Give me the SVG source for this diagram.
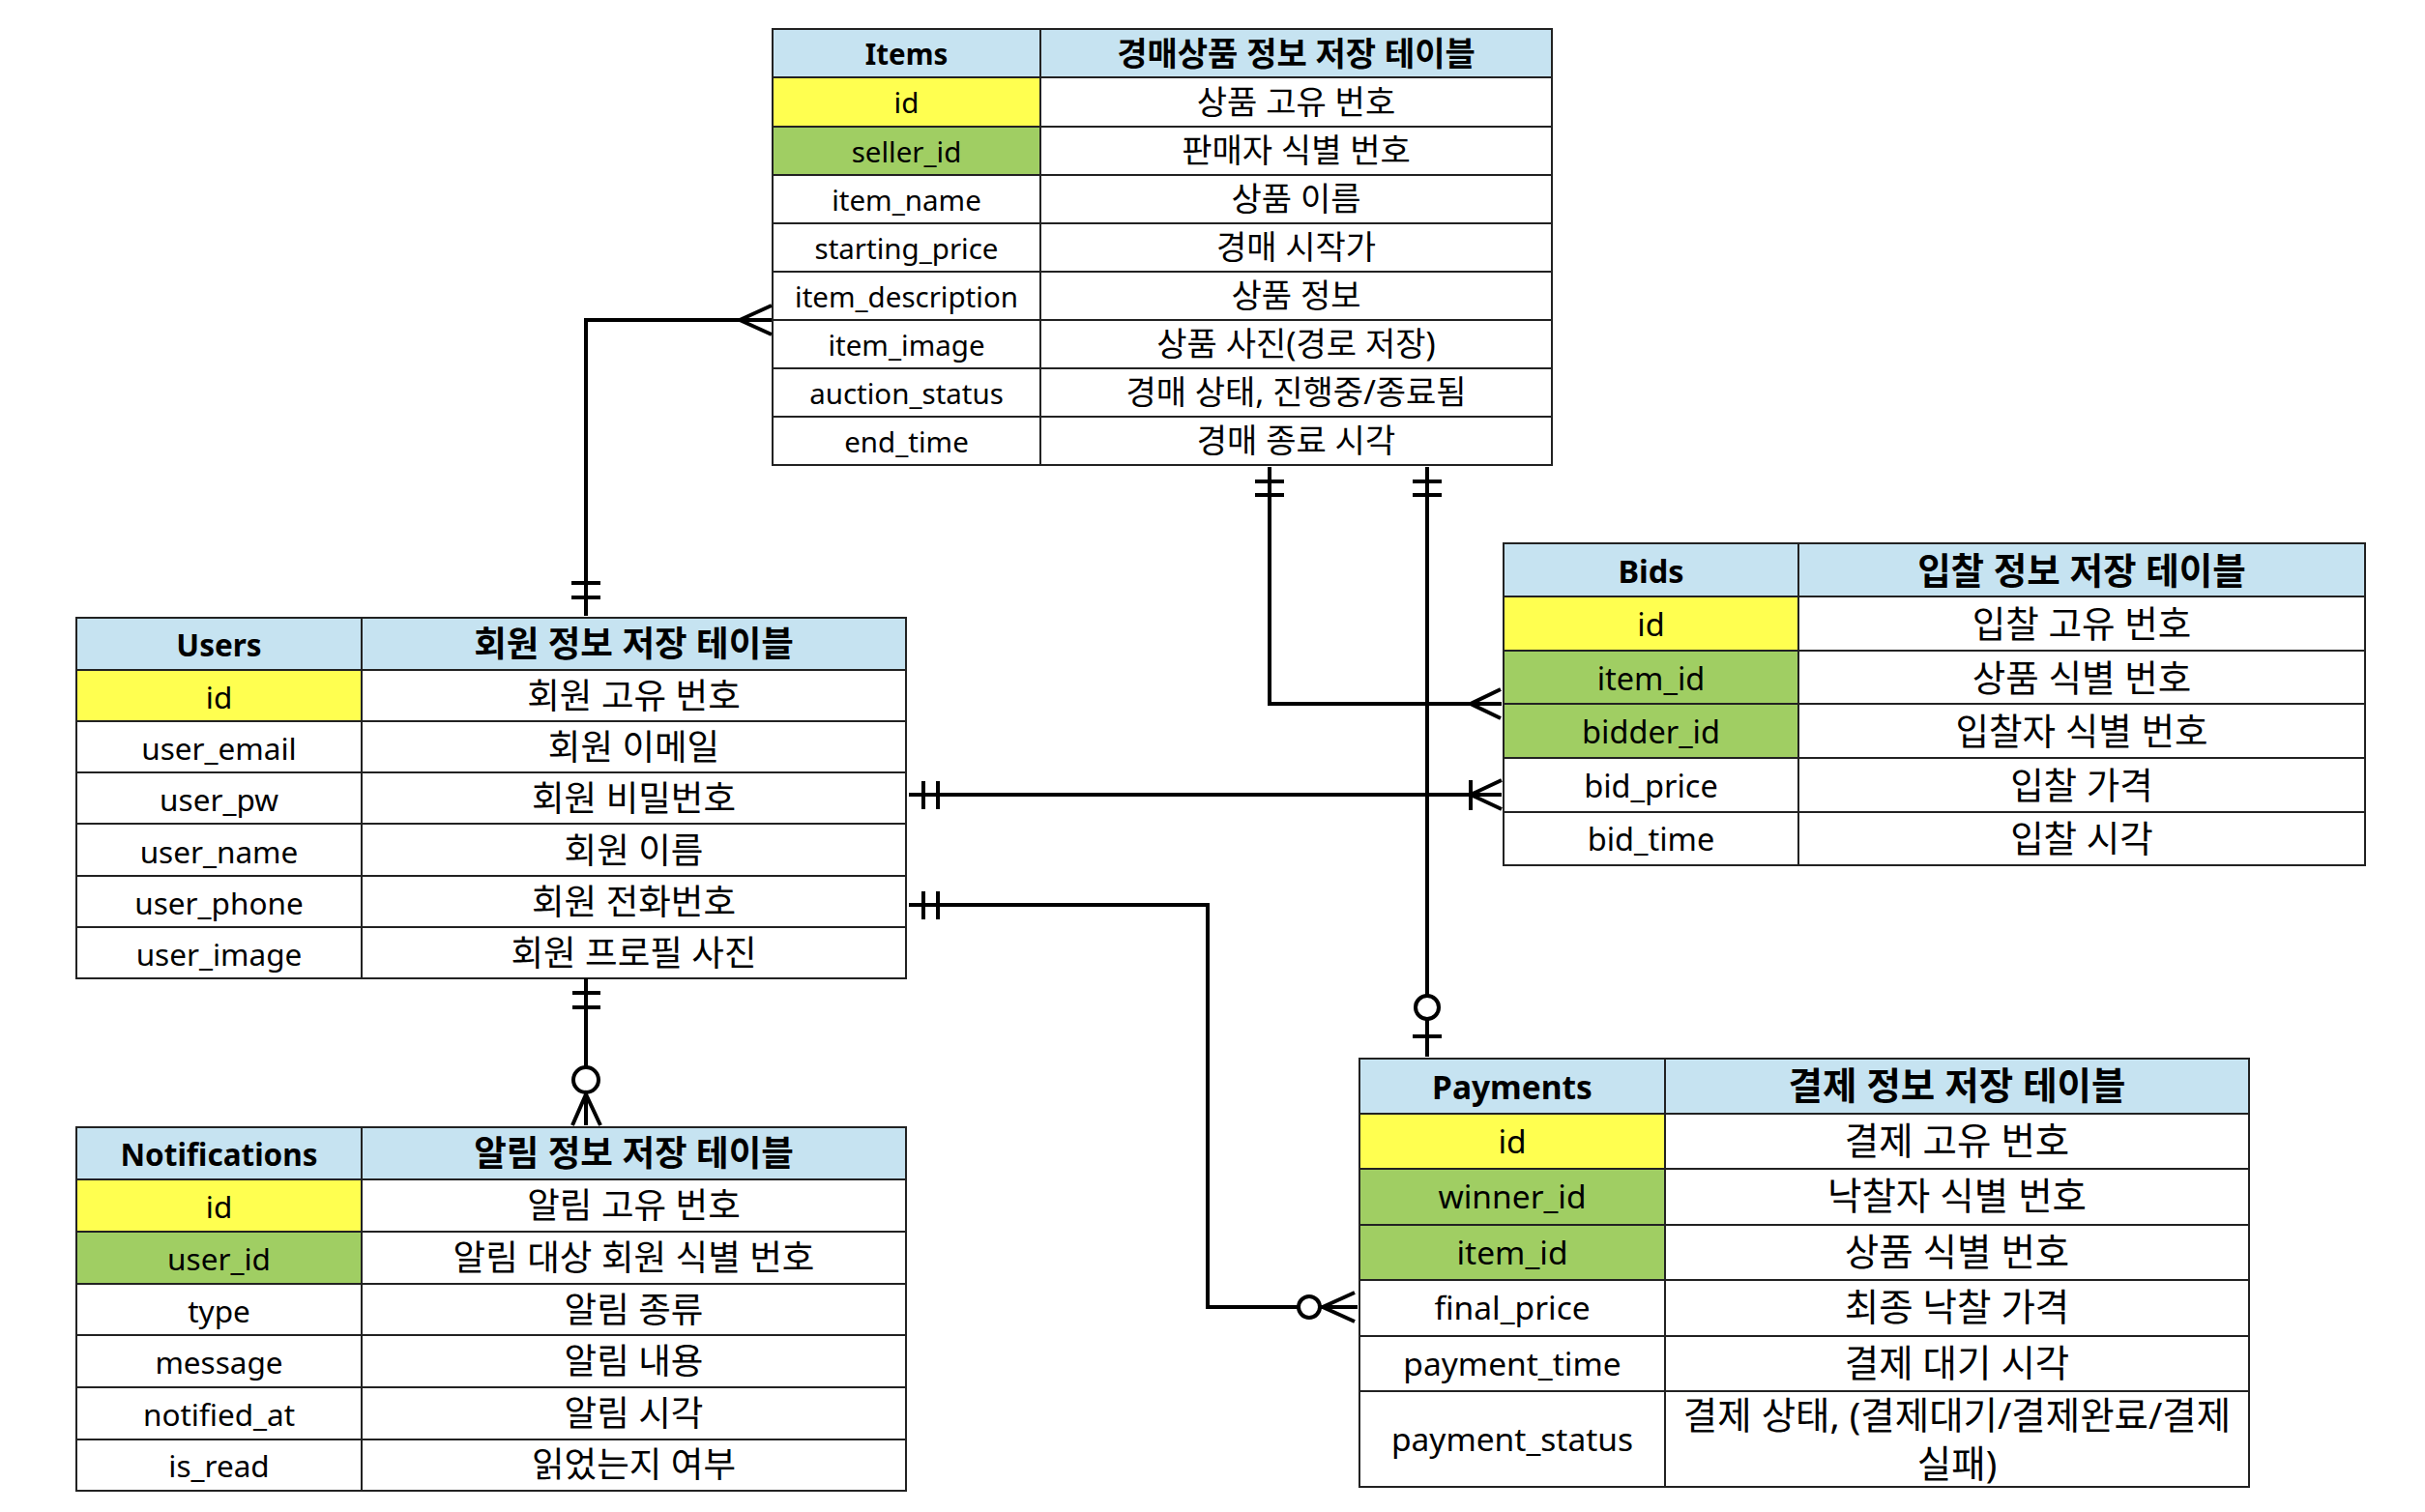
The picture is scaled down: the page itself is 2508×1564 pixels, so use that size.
<svg xmlns="http://www.w3.org/2000/svg" width="2508" height="1564" viewBox="0 0 2508 1564">
<style>
.c{stroke:#222;stroke-width:2}
.h{fill:#C6E3F1}
.pk{fill:#FFFF50}
.fk{fill:#A0CE63}
.w{fill:#FFFFFF}
text{font-family:"Noto Sans","Noto Sans CJK KR",sans-serif;fill:#000;text-anchor:middle;dominant-baseline:central}
.b{font-weight:bold}
.t1 text{font-size:29.5px}
.t1 text.k{font-size:34px}
.t2 text{font-size:31.5px}
.t2 text.k{font-size:36.5px}
.t3 text{font-size:32.5px}
.t3 text.k{font-size:37.5px}
.t4 text{font-size:33.5px}
.t4 text.k{font-size:38.5px}
#connectors path,#connectors line{stroke:#000;stroke-width:4;fill:none}
#connectors circle{stroke:#000;stroke-width:4;fill:#fff}
</style>
<rect width="2508" height="1564" fill="#fff"/>

<g id="items" class="t1">
<rect class="c h" x="799" y="30" width="277" height="50"/><rect class="c h" x="1076" y="30" width="529" height="50"/>
<rect class="c pk" x="799" y="80" width="277" height="51"/><rect class="c w" x="1076" y="80" width="529" height="51"/>
<rect class="c fk" x="799" y="131" width="277" height="50"/><rect class="c w" x="1076" y="131" width="529" height="50"/>
<rect class="c w" x="799" y="181" width="277" height="50"/><rect class="c w" x="1076" y="181" width="529" height="50"/>
<rect class="c w" x="799" y="231" width="277" height="50"/><rect class="c w" x="1076" y="231" width="529" height="50"/>
<rect class="c w" x="799" y="281" width="277" height="50"/><rect class="c w" x="1076" y="281" width="529" height="50"/>
<rect class="c w" x="799" y="331" width="277" height="50"/><rect class="c w" x="1076" y="331" width="529" height="50"/>
<rect class="c w" x="799" y="381" width="277" height="50"/><rect class="c w" x="1076" y="381" width="529" height="50"/>
<rect class="c w" x="799" y="431" width="277" height="50"/><rect class="c w" x="1076" y="431" width="529" height="50"/>
<text class="b" x="937.5" y="55">Items</text><text class="b k" x="1340.5" y="55">경매상품 정보 저장 테이블</text>
<text x="937.5" y="105">id</text><text class="k" x="1340.5" y="105">상품 고유 번호</text>
<text x="937.5" y="156">seller_id</text><text class="k" x="1340.5" y="155">판매자 식별 번호</text>
<text x="937.5" y="206">item_name</text><text class="k" x="1340.5" y="205">상품 이름</text>
<text x="937.5" y="256">starting_price</text><text class="k" x="1340.5" y="255">경매 시작가</text>
<text x="937.5" y="306">item_description</text><text class="k" x="1340.5" y="305">상품 정보</text>
<text x="937.5" y="356">item_image</text><text class="k" x="1340.5" y="355">상품 사진(경로 저장)</text>
<text x="937.5" y="406">auction_status</text><text class="k" x="1340.5" y="405">경매 상태, 진행중/종료됨</text>
<text x="937.5" y="456">end_time</text><text class="k" x="1340.5" y="455">경매 종료 시각</text>
</g>

<g id="users" class="t2">
<rect class="c h" x="79" y="639" width="295" height="54"/><rect class="c h" x="374" y="639" width="563" height="54"/>
<rect class="c pk" x="79" y="693" width="295" height="53"/><rect class="c w" x="374" y="693" width="563" height="53"/>
<rect class="c w" x="79" y="746" width="295" height="53"/><rect class="c w" x="374" y="746" width="563" height="53"/>
<rect class="c w" x="79" y="799" width="295" height="53"/><rect class="c w" x="374" y="799" width="563" height="53"/>
<rect class="c w" x="79" y="852" width="295" height="54"/><rect class="c w" x="374" y="852" width="563" height="54"/>
<rect class="c w" x="79" y="906" width="295" height="53"/><rect class="c w" x="374" y="906" width="563" height="53"/>
<rect class="c w" x="79" y="959" width="295" height="53"/><rect class="c w" x="374" y="959" width="563" height="53"/>
<text class="b" x="226.5" y="666">Users</text><text class="b k" x="655.5" y="665">회원 정보 저장 테이블</text>
<text x="226.5" y="720">id</text><text class="k" x="655.5" y="719">회원 고유 번호</text>
<text x="226.5" y="773">user_email</text><text class="k" x="655.5" y="772">회원 이메일</text>
<text x="226.5" y="826">user_pw</text><text class="k" x="655.5" y="825">회원 비밀번호</text>
<text x="226.5" y="880">user_name</text><text class="k" x="655.5" y="879">회원 이름</text>
<text x="226.5" y="933">user_phone</text><text class="k" x="655.5" y="932">회원 전화번호</text>
<text x="226.5" y="986">user_image</text><text class="k" x="655.5" y="985">회원 프로필 사진</text>
</g>

<g id="notifications" class="t2">
<rect class="c h" x="79" y="1166" width="295" height="54"/><rect class="c h" x="374" y="1166" width="563" height="54"/>
<rect class="c pk" x="79" y="1220" width="295" height="54"/><rect class="c w" x="374" y="1220" width="563" height="54"/>
<rect class="c fk" x="79" y="1274" width="295" height="54"/><rect class="c w" x="374" y="1274" width="563" height="54"/>
<rect class="c w" x="79" y="1328" width="295" height="53"/><rect class="c w" x="374" y="1328" width="563" height="53"/>
<rect class="c w" x="79" y="1381" width="295" height="54"/><rect class="c w" x="374" y="1381" width="563" height="54"/>
<rect class="c w" x="79" y="1435" width="295" height="54"/><rect class="c w" x="374" y="1435" width="563" height="54"/>
<rect class="c w" x="79" y="1489" width="295" height="53"/><rect class="c w" x="374" y="1489" width="563" height="53"/>
<text class="b" x="226.5" y="1193">Notifications</text><text class="b k" x="655.5" y="1192">알림 정보 저장 테이블</text>
<text x="226.5" y="1247">id</text><text class="k" x="655.5" y="1246">알림 고유 번호</text>
<text x="226.5" y="1301">user_id</text><text class="k" x="655.5" y="1300">알림 대상 회원 식별 번호</text>
<text x="226.5" y="1355">type</text><text class="k" x="655.5" y="1354">알림 종류</text>
<text x="226.5" y="1408">message</text><text class="k" x="655.5" y="1407">알림 내용</text>
<text x="226.5" y="1462">notified_at</text><text class="k" x="655.5" y="1461">알림 시각</text>
<text x="226.5" y="1515">is_read</text><text class="k" x="655.5" y="1514">읽었는지 여부</text>
</g>

<g id="bids" class="t3">
<rect class="c h" x="1555" y="562" width="305" height="55"/><rect class="c h" x="1860" y="562" width="586" height="55"/>
<rect class="c pk" x="1555" y="617" width="305" height="56"/><rect class="c w" x="1860" y="617" width="586" height="56"/>
<rect class="c fk" x="1555" y="673" width="305" height="55"/><rect class="c w" x="1860" y="673" width="586" height="55"/>
<rect class="c fk" x="1555" y="728" width="305" height="56"/><rect class="c w" x="1860" y="728" width="586" height="56"/>
<rect class="c w" x="1555" y="784" width="305" height="56"/><rect class="c w" x="1860" y="784" width="586" height="56"/>
<rect class="c w" x="1555" y="840" width="305" height="55"/><rect class="c w" x="1860" y="840" width="586" height="55"/>
<text class="b" x="1707.5" y="590">Bids</text><text class="b k" x="2153" y="589">입찰 정보 저장 테이블</text>
<text x="1707.5" y="645">id</text><text class="k" x="2153" y="644">입찰 고유 번호</text>
<text x="1707.5" y="701">item_id</text><text class="k" x="2153" y="700">상품 식별 번호</text>
<text x="1707.5" y="756">bidder_id</text><text class="k" x="2153" y="755">입찰자 식별 번호</text>
<text x="1707.5" y="812">bid_price</text><text class="k" x="2153" y="811">입찰 가격</text>
<text x="1707.5" y="867">bid_time</text><text class="k" x="2153" y="866">입찰 시각</text>
</g>

<g id="payments" class="t4">
<rect class="c h" x="1406" y="1095" width="316" height="57"/><rect class="c h" x="1722" y="1095" width="604" height="57"/>
<rect class="c pk" x="1406" y="1152" width="316" height="57"/><rect class="c w" x="1722" y="1152" width="604" height="57"/>
<rect class="c fk" x="1406" y="1209" width="316" height="58"/><rect class="c w" x="1722" y="1209" width="604" height="58"/>
<rect class="c fk" x="1406" y="1267" width="316" height="57"/><rect class="c w" x="1722" y="1267" width="604" height="57"/>
<rect class="c w" x="1406" y="1324" width="316" height="58"/><rect class="c w" x="1722" y="1324" width="604" height="58"/>
<rect class="c w" x="1406" y="1382" width="316" height="57"/><rect class="c w" x="1722" y="1382" width="604" height="57"/>
<rect class="c w" x="1406" y="1439" width="316" height="99"/><rect class="c w" x="1722" y="1439" width="604" height="99"/>
<text class="b" x="1564" y="1124">Payments</text><text class="b k" x="2024" y="1122">결제 정보 저장 테이블</text>
<text x="1564" y="1180">id</text><text class="k" x="2024" y="1179">결제 고유 번호</text>
<text x="1564" y="1237">winner_id</text><text class="k" x="2024" y="1236">낙찰자 식별 번호</text>
<text x="1564" y="1295">item_id</text><text class="k" x="2024" y="1294">상품 식별 번호</text>
<text x="1564" y="1352">final_price</text><text class="k" x="2024" y="1351">최종 낙찰 가격</text>
<text x="1564" y="1410">payment_time</text><text class="k" x="2024" y="1409">결제 대기 시각</text>
<text x="1564" y="1488">payment_status</text>
<text class="k" x="2024" y="1463">결제 상태, (결제대기/결제완료/결제</text>
<text class="k" x="2024" y="1513">실패)</text>
</g>

<g id="connectors">
<!-- Users - Items (seller_id) -->
<path d="M606,637 V331 H798"/>
<line x1="591" y1="603" x2="621" y2="603"/><line x1="591" y1="618" x2="621" y2="618"/>
<path d="M798,316 L765,331 L798,346"/>
<!-- Items - Bids (item_id) -->
<path d="M1313,483 V728 H1553"/>
<line x1="1298" y1="498" x2="1328" y2="498"/><line x1="1298" y1="512" x2="1328" y2="512"/>
<path d="M1552,713 L1521,728 L1552,743"/>
<!-- Items - Payments (item_id) -->
<path d="M1476,483 V1093"/>
<line x1="1461" y1="498" x2="1491" y2="498"/><line x1="1461" y1="512" x2="1491" y2="512"/>
<circle cx="1476" cy="1042" r="12"/>
<line x1="1461" y1="1072" x2="1491" y2="1072"/>
<!-- Users - Bids (bidder_id) -->
<path d="M940,822 H1553"/>
<line x1="955" y1="808" x2="955" y2="837"/><line x1="970" y1="808" x2="970" y2="837"/>
<line x1="1521" y1="807" x2="1521" y2="838"/>
<path d="M1553,807 L1521,822 L1553,837"/>
<!-- Users - Payments (winner_id) -->
<path d="M940,936 H1249 V1352 H1342"/>
<line x1="955" y1="922" x2="955" y2="951"/><line x1="970" y1="922" x2="970" y2="951"/>
<circle cx="1354" cy="1352" r="11"/>
<path d="M1366,1352 H1404"/>
<path d="M1401,1337 L1368,1352 L1401,1367"/>
<!-- Users - Notifications (user_id) -->
<path d="M606,1012 V1164"/>
<line x1="592" y1="1027" x2="621" y2="1027"/><line x1="592" y1="1042" x2="621" y2="1042"/>
<circle cx="606" cy="1117" r="13"/>
<path d="M592,1164 L606,1132 L621,1164"/>
</g>
</svg>
